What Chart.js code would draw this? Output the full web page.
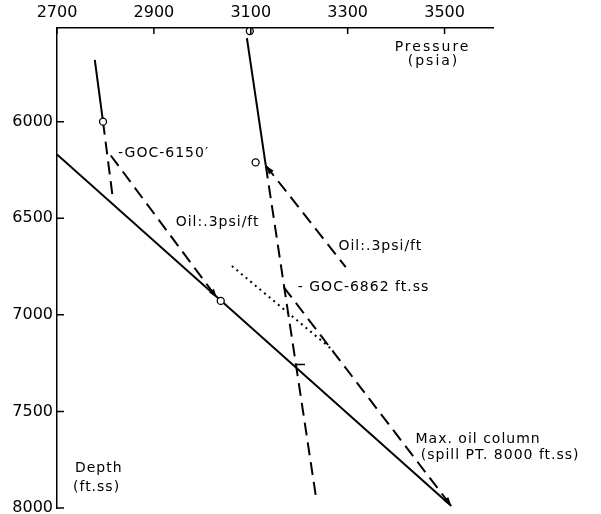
<!DOCTYPE html>
<html>
<head>
<meta charset="utf-8">
<script src="https://cdn.jsdelivr.net/npm/chart.js@4.4.1/dist/chart.umd.min.js"></script>
<style>
  html, body { margin: 0; padding: 0; background: #fff; }
  #wrap { width: 601px; height: 514px; position: relative; }
</style>
</head>
<body>
<div id="wrap"><canvas id="chart"></canvas></div>
<script>
// tick labels
const pressureTicks = [2700, 2900, 3100, 3300, 3500];
const depthTicks = [6000, 6500, 7000, 7500, 8000];

// every line as [pressure psia, depth ft.ss] pairs
const gasWellA = [[2778, 5680], [2795, 6000]];
const gasWellAExt = [[2795, 6000], [2815, 6392]];
const oilWellA = [[2811, 6175], [3030, 6912]];
const waterLine = [[2700, 6170], [3514, 7990]];
const gasWellB = [[3092, 5567], [3131, 6227]];
const gasWellBExt = [[3131, 6227], [3234, 7933]];
const oilWellBTop = [[3131, 6227], [3296, 6753]];
const oilWellBLow = [[3168, 6856], [3514, 7990]];
const dottedLine = [[3061, 6747], [3271, 7186]];
const crossMark = [[3191, 7257], [3212, 7257]];
const measured = [[2795, 6000], [3098, 5531], [3110, 6211], [3038, 6928]];

// annotations: text, pressure, depth (left edge, vertical middle)
const notes = [
    ['-GOC-6150\u2032', 2826, 6165],
    ['Oil:.3psi/ft', 2945, 6521],
    ['Oil:.3psi/ft', 3281, 6644],
    ['- GOC-6862 ft.ss', 3197, 6856],
    ['Max. oil column', 3440, 7644],
    ['(spill PT. 8000 ft.ss)', 3451, 7727],
    ['Pressure', 3397, 5613],
    ['(psia)', 3424, 5686],
    ['Depth', 2737, 7794],
    ['(ft.ss)', 2733, 7892]
];

const toPts = arr => arr.map(p => ({ x: p[0], y: p[1] }));

function lineSet(arr, extra) {
    return Object.assign({
        data: toPts(arr),
        showLine: true,
        borderColor: '#000',
        borderWidth: 2,
        pointRadius: 0,
        fill: false
    }, extra || {});
}

const DASH = [13, 7];

const arrowPlugin = {
    id: 'arrows',
    afterDatasetsDraw(chart) {
        const { ctx, scales: { x, y } } = chart;
        chart.data.datasets.forEach(ds => {
            if (!ds.arrowAt) return;
            const pts = ds.data;
            const tip = ds.arrowAt === 'end' ? pts[pts.length - 1] : pts[0];
            const from = ds.arrowAt === 'end' ? pts[pts.length - 2] : pts[1];
            const tx = x.getPixelForValue(tip.x), ty = y.getPixelForValue(tip.y);
            const fx = x.getPixelForValue(from.x), fy = y.getPixelForValue(from.y);
            const a = Math.atan2(ty - fy, tx - fx);
            const L = 9, W = 3;
            ctx.save();
            ctx.fillStyle = '#000';
            ctx.beginPath();
            ctx.moveTo(tx, ty);
            ctx.lineTo(tx - L * Math.cos(a) + W * Math.sin(a), ty - L * Math.sin(a) - W * Math.cos(a));
            ctx.lineTo(tx - L * Math.cos(a) - W * Math.sin(a), ty - L * Math.sin(a) + W * Math.cos(a));
            ctx.closePath();
            ctx.fill();
            ctx.restore();
        });
    }
};

// ticks point into the plot in the original
const inwardTicks = {
    id: 'inwardTicks',
    afterDraw(chart) {
        const { ctx, chartArea: a, scales: { x, y } } = chart;
        ctx.save();
        ctx.strokeStyle = '#000';
        ctx.lineWidth = 1.5;
        ctx.beginPath();
        x.ticks.forEach(t => {
            const px = x.getPixelForValue(t.value);
            ctx.moveTo(px, a.top);
            ctx.lineTo(px, a.top + 6);
        });
        y.ticks.forEach(t => {
            const py = y.getPixelForValue(t.value);
            ctx.moveTo(a.left, py);
            ctx.lineTo(a.left + 7, py);
        });
        ctx.stroke();
        ctx.restore();
    }
};

const notesPlugin = {
    id: 'notes',
    afterDraw(chart) {
        const { ctx, scales: { x, y } } = chart;
        ctx.save();
        ctx.fillStyle = '#000';
        ctx.font = '14px "DejaVu Sans"';
        ctx.textAlign = 'left';
        ctx.textBaseline = 'middle';
        notes.forEach(n => {
            ctx.letterSpacing = (n[0] === 'Pressure' || n[0] === '(psia)') ? '2px' : '1px';
            ctx.fillText(n[0], x.getPixelForValue(n[1]), y.getPixelForValue(n[2]));
        });
        ctx.restore();
    }
};

const axisBase = {
    type: 'linear',
    grid: { display: false, drawTicks: false },
    border: { display: true, color: '#000', width: 1.5 },
    ticks: {
        color: '#000',
        font: { family: 'DejaVu Sans', size: 16 },
        autoSkip: false,
        maxRotation: 0,
        callback: v => String(v)
    }
};

new Chart(document.getElementById('chart'), {
    type: 'scatter',
    data: {
        datasets: [
            {
                data: toPts(measured),
                pointRadius: 3.5,
                pointBackgroundColor: '#fff',
                pointBorderColor: '#000',
                pointBorderWidth: 1.3,
                showLine: false,
                clip: false
            },
            lineSet(gasWellA),
            lineSet(gasWellAExt, { borderDash: DASH }),
            lineSet(oilWellA, { borderDash: DASH, arrowAt: 'end' }),
            lineSet(waterLine),
            lineSet(gasWellB),
            lineSet(gasWellBExt, { borderDash: DASH }),
            lineSet(oilWellBTop, { borderDash: DASH, arrowAt: 'start' }),
            lineSet(oilWellBLow, { borderDash: DASH, arrowAt: 'end' }),
            lineSet(dottedLine, { borderDash: [2, 4] }),
            lineSet(crossMark, { borderWidth: 1.5 })
        ]
    },
    options: {
        responsive: true,
        maintainAspectRatio: false,
        animation: false,
        layout: { padding: { left: 0, top: 0, right: 108, bottom: 6 } },
        plugins: { legend: { display: false }, tooltip: { enabled: false } },
        scales: {
            x: Object.assign({}, axisBase, {
                position: 'top',
                min: 2700,
                max: 3600,
                afterBuildTicks: s => { s.ticks = pressureTicks.map(v => ({ value: v })); },
                afterFit: s => { s.height = 28; s.paddingLeft = 0; s.paddingRight = 0; },
                ticks: Object.assign({}, axisBase.ticks, { padding: 6 })
            }),
            y: Object.assign({}, axisBase, {
                reverse: true,
                min: 5515,
                max: 8000,
                afterBuildTicks: s => { s.ticks = depthTicks.map(v => ({ value: v })); },
                afterFit: s => { s.width = 57; s.paddingTop = 0; s.paddingBottom = 0; },
                ticks: Object.assign({}, axisBase.ticks, { padding: 4 })
            })
        }
    },
    plugins: [arrowPlugin, inwardTicks, notesPlugin]
});
</script>
</body>
</html>
